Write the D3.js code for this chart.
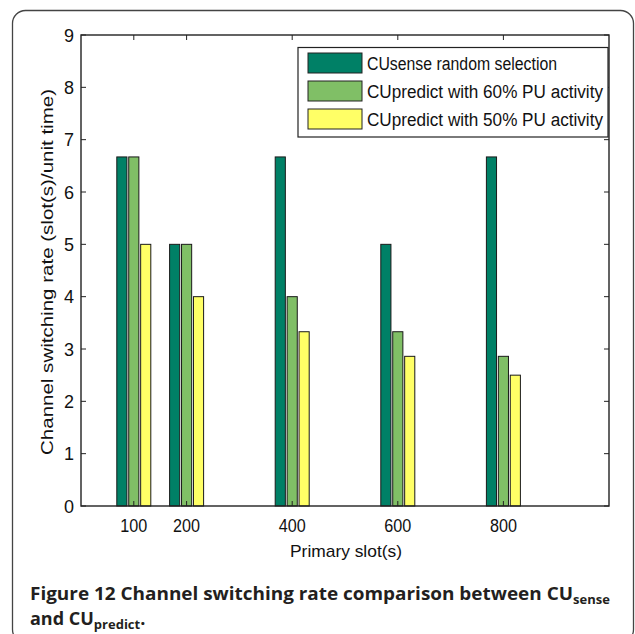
<!DOCTYPE html>
<html><head><meta charset="utf-8">
<script src="https://cdn.jsdelivr.net/npm/d3@7"></script>
<style>
html,body{margin:0;padding:0;background:#fff;}
svg{display:block;}
</style></head>
<body>
<script>
const categories = [100, 200, 400, 600, 800];
const seriesNames = ["CUsense random selection", "CUpredict with 60% PU activity", "CUpredict with 50% PU activity"];
const senseRandom = [6.67, 5.0, 6.67, 5.0, 6.67];
const predict60 = [6.67, 5.0, 4.0, 3.33, 2.86];
const predict50 = [5.0, 4.0, 3.33, 2.86, 2.5];
const seriesColors = ["#008066", "#80bf66", "#ffff66"];
const yTicks = [0,1,2,3,4,5,6,7,8,9];
const xTicks = [100, 200, 400, 600, 800];
const xLabel = "Primary slot(s)";
const yLabel = "Channel switching rate (slot(s)/unit time)";

const W = 635, H = 634;
const svg = d3.select("body").append("svg").attr("width", W).attr("height", H);

// outer frame
svg.append("rect").attr("x", 12.5).attr("y", 10.5).attr("width", 621).attr("height", 632)
  .attr("rx", 13).attr("fill", "none").attr("stroke", "#444").attr("stroke-width", 1.3);

const L = 81, R = 609, T = 35, B = 506;
const x = d3.scaleLinear().domain([0, 1000]).range([L, R]);
const y = d3.scaleLinear().domain([0, 9]).range([B, T]);
const inner = d3.scaleBand().domain(d3.range(3)).range([-17, 17]).paddingInner(0.15);

const allSeries = [senseRandom, predict60, predict50];
const g = svg.append("g");
allSeries.forEach((vals, si) => {
  g.selectAll(null).data(vals).enter().append("rect")
    .attr("x", (d, i) => x(categories[i]) + inner(si))
    .attr("y", d => y(d))
    .attr("width", inner.bandwidth())
    .attr("height", d => y(0) - y(d))
    .attr("fill", seriesColors[si])
    .attr("stroke", "#1a1a1a").attr("stroke-width", 1);
});

const font = "'Liberation Sans', Arial, sans-serif";
const tickLen = 5;
// axes box
const axG = svg.append("g").attr("stroke", "#222").attr("fill", "none");
axG.append("rect").attr("x", L).attr("y", T).attr("width", R - L).attr("height", B - T).attr("stroke-width", 1.4);
yTicks.forEach(t => {
  axG.append("line").attr("x1", L).attr("x2", L + tickLen).attr("y1", y(t)).attr("y2", y(t));
  axG.append("line").attr("x1", R).attr("x2", R - tickLen).attr("y1", y(t)).attr("y2", y(t));
});
xTicks.forEach(t => {
  axG.append("line").attr("x1", x(t)).attr("x2", x(t)).attr("y1", T).attr("y2", T + tickLen);
  axG.append("line").attr("x1", x(t)).attr("x2", x(t)).attr("y1", B).attr("y2", B - tickLen);
});

svg.append("g").selectAll("text").data(yTicks).enter().append("text")
  .attr("x", L - 7).attr("y", d => y(d) + 6.5).attr("text-anchor", "end")
  .attr("font-family", font).attr("font-size", 18).attr("fill", "#111").text(d => d);
svg.append("g").selectAll("text").data(xTicks).enter().append("text")
  .attr("x", d => x(d)).attr("y", 532).attr("text-anchor", "middle")
  .attr("font-family", font).attr("font-size", 18).attr("fill", "#111")
  .attr("textLength", 27).attr("lengthAdjust", "spacingAndGlyphs").text(d => d);

svg.append("text").attr("x", 346).attr("y", 557).attr("text-anchor", "middle")
  .attr("font-family", font).attr("font-size", 17).attr("fill", "#111")
  .attr("textLength", 112).attr("lengthAdjust", "spacingAndGlyphs").text(xLabel);
svg.append("text").attr("transform", "translate(53,272) rotate(-90)").attr("text-anchor", "middle")
  .attr("font-family", font).attr("font-size", 17).attr("fill", "#111")
  .attr("textLength", 366).attr("lengthAdjust", "spacingAndGlyphs").text(yLabel);

// legend
const lg = svg.append("g");
lg.append("rect").attr("x", 298).attr("y", 47.5).attr("width", 310).attr("height", 89.5)
  .attr("fill", "#fff").attr("stroke", "#222").attr("stroke-width", 1.2);
const rowY = [53, 81, 109];
seriesNames.forEach((n, i) => {
  lg.append("rect").attr("x", 308).attr("y", rowY[i]).attr("width", 54).attr("height", 20)
    .attr("fill", seriesColors[i]).attr("stroke", "#222").attr("stroke-width", 1);
  lg.append("text").attr("x", 367).attr("y", rowY[i] + 17).attr("font-family", font)
    .attr("font-size", 18).attr("fill", "#111")
    .attr("textLength", i === 0 ? 190 : 236).attr("lengthAdjust", "spacingAndGlyphs").text(n);
});

// caption
const capFont = "'Open Sans', 'Noto Sans', sans-serif";
const c1 = svg.append("text").attr("x", 30).attr("y", 600).attr("font-family", capFont)
  .attr("font-weight", "bold").attr("font-size", 18).attr("fill", "#231f20");
c1.append("tspan").attr("textLength", 543).attr("lengthAdjust", "spacingAndGlyphs")
  .text("Figure 12 Channel switching rate comparison between CU");
c1.append("tspan").attr("font-size", 13).attr("dy", 4).text("sense");
const c2 = svg.append("text").attr("x", 30).attr("y", 625).attr("font-family", capFont)
  .attr("font-weight", "bold").attr("font-size", 18).attr("fill", "#231f20");
c2.append("tspan").text("and CU");
c2.append("tspan").attr("font-size", 13).attr("dy", 4).text("predict");
c2.append("tspan").attr("dy", -4).text(".");
</script>
</body></html>
